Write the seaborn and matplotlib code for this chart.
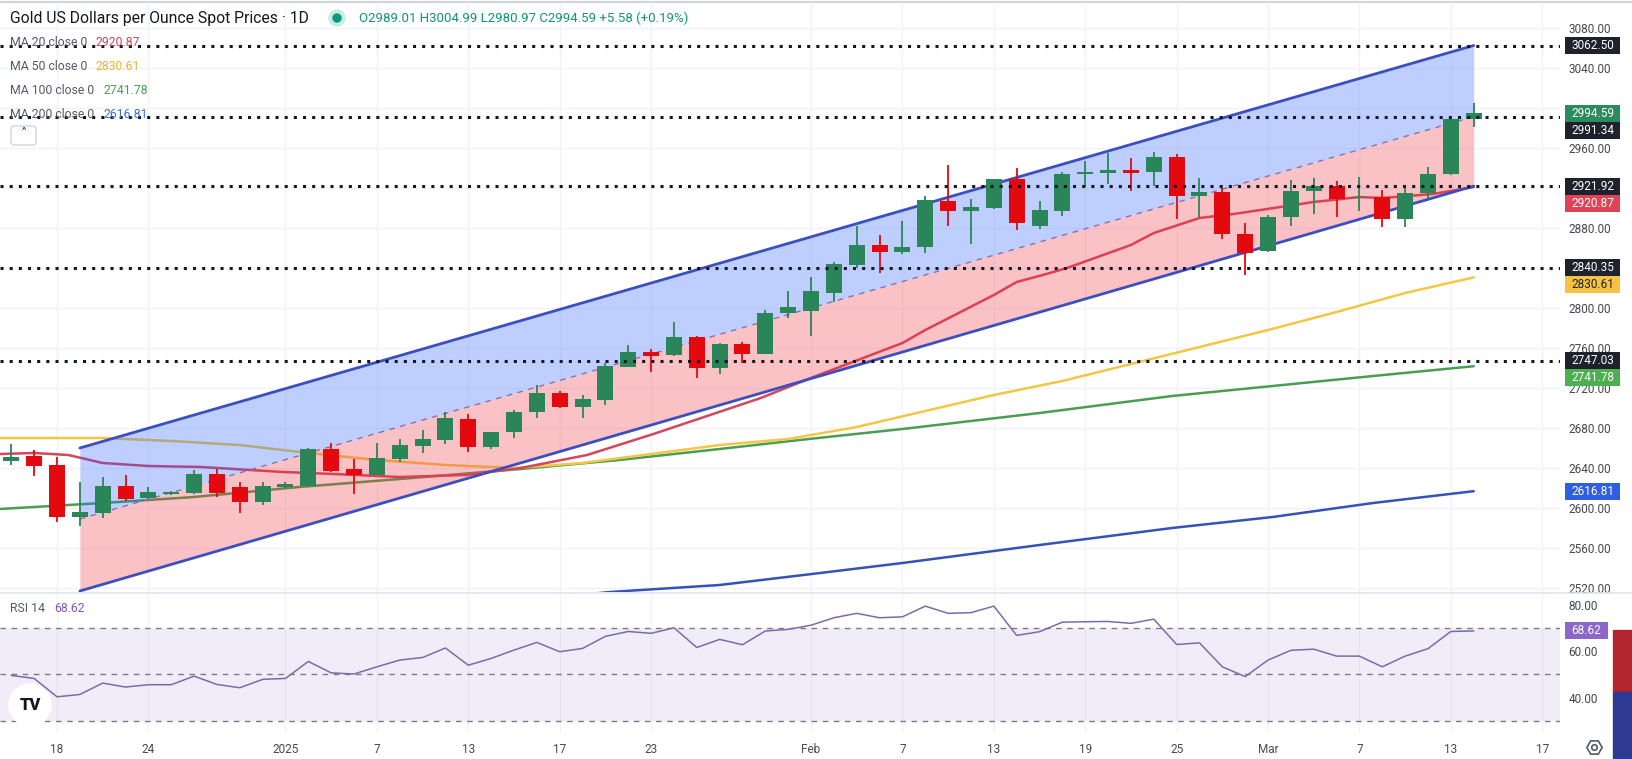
import seaborn as sns
import matplotlib
matplotlib.use("Agg")
import matplotlib.pyplot as plt
from matplotlib.patches import Rectangle, Circle, FancyBboxPatch
from matplotlib.lines import Line2D
from matplotlib.transforms import IdentityTransform

W, H = 1633, 759

# daily bars, bar 0 = 18 Dec 2024
bars = list(range(-2, 63))
opens = [2647, 2652, 2643, 2591, 2595, 2622, 2610, 2614.5, 2615, 2634,
         2621, 2606, 2621, 2622, 2659, 2639, 2633, 2649, 2662, 2668,
         2689, 2661, 2676, 2696, 2715, 2701, 2708, 2741, 2756, 2753,
         2771, 2740, 2764, 2754, 2795, 2797, 2815, 2843, 2863, 2856,
         2861, 2907, 2897, 2900, 2929, 2882, 2897, 2934, 2935, 2938,
         2936, 2951, 2912, 2916, 2874, 2857, 2891, 2917, 2922, 2910,
         2911, 2889, 2915, 2934, 2989.01]
highs = [2664, 2658, 2651, 2626, 2631, 2633, 2621, 2617, 2638, 2639,
         2626, 2626, 2626, 2660, 2665, 2649, 2665, 2669, 2678, 2696,
         2694, 2676, 2698, 2723, 2717, 2713, 2745, 2763, 2759, 2786,
         2772, 2765, 2766, 2798, 2817, 2831, 2846, 2882, 2873, 2887,
         2912, 2943, 2909, 2929, 2940, 2907, 2936, 2947, 2955, 2950,
         2956, 2954, 2930, 2920, 2885, 2893, 2928, 2930, 2927, 2931,
         2918, 2923, 2941, 2990, 3004.99]
lows = [2643, 2632, 2586, 2582, 2590, 2607, 2609, 2613, 2614, 2611,
        2595, 2603, 2620, 2621, 2636, 2614, 2633, 2646, 2655, 2664,
        2656, 2659, 2670, 2690, 2700, 2690, 2703, 2741, 2736, 2752,
        2730, 2734, 2745, 2754, 2790, 2772, 2806, 2840, 2835, 2854,
        2855, 2882, 2864, 2899, 2878, 2879, 2892, 2921, 2924, 2917,
        2922, 2889, 2891, 2869, 2833, 2856, 2882, 2894, 2891, 2897,
        2881, 2881, 2909, 2933, 2980.97]
closes = [2651, 2642, 2591, 2596, 2622, 2609, 2616, 2615.5, 2634, 2615,
          2606, 2622, 2624, 2659, 2637, 2633, 2650, 2663, 2669, 2690,
          2661, 2676, 2696, 2715, 2701, 2709, 2742, 2756, 2752, 2771,
          2740, 2764, 2754, 2795, 2801, 2817, 2844, 2863, 2856, 2861,
          2908, 2897, 2901, 2929, 2885, 2898, 2934, 2936, 2938, 2935,
          2951, 2912, 2916, 2874, 2855, 2891, 2917, 2922, 2909, 2911,
          2889, 2915, 2934, 2989, 2994.59]
rsi = [49.5, 48.2, 40.3, 41.3, 46.2, 44.5, 45.5, 45.5, 49.2, 45.6,
       44.2, 47.8, 48.2, 55.5, 50.6, 50.1, 53.2, 56.1, 57.2, 61.3,
       53.9, 56.8, 60.4, 63.7, 59.7, 61.1, 66.3, 68.4, 67.6, 70.0,
       61.5, 65.0, 62.7, 68.6, 69.3, 71.1, 74.3, 76.2, 74.3, 74.7,
       79.3, 76.2, 76.5, 79.3, 66.7, 68.3, 72.4, 72.6, 72.7, 71.9,
       73.7, 62.8, 63.5, 53.2, 49.0, 56.1, 60.3, 60.8, 57.8, 57.8,
       53.2, 57.8, 61.0, 68.4, 68.62]

# moving averages (bar position, value)
ma20_x = [-2.5, -1, 0.5, 2, 4, 6.3, 9.9, 12.1, 15, 17.9, 20.3, 23.2, 26.1, 30.8, 33.1,
          37, 38, 41, 42, 43.3, 44.2, 47, 48, 50, 51.5, 55, 57, 58, 60.2, 62]
ma20_y = [2654, 2655, 2653, 2645, 2642, 2641, 2636, 2634, 2631, 2633, 2640, 2653, 2674, 2710, 2731,
          2765, 2778, 2813, 2826, 2834, 2840, 2863, 2875, 2890, 2894, 2906, 2911, 2910, 2914, 2920.87]
ma50_x = [-2.5, 2, 5, 8, 11, 14, 17, 20, 23, 26, 29, 32, 35, 38, 41, 44, 47, 50, 53, 56, 59, 62]
ma50_y = [2670, 2670, 2667, 2663, 2655, 2648, 2643, 2640, 2645, 2654, 2663, 2669, 2681, 2697,
          2713, 2727, 2744, 2761, 2778, 2796, 2815, 2830.61]
ma100_x = [-2.5, 2, 6, 10.6, 15, 20.3, 24.6, 29, 32.9, 37, 43, 48.8, 53.2, 57.6, 62]
ma100_y = [2599, 2605, 2611, 2621, 2629, 2639, 2648, 2659, 2669, 2679, 2695, 2712, 2722, 2732, 2741.78]
ma200_x = [22, 24.2, 29, 33.4, 37, 43, 48.8, 53.2, 57.6, 62]
ma200_y = [2511, 2516, 2523, 2535, 2545, 2563, 2580, 2591, 2605, 2616.81]

# regression channel
chan_x = [1, 62]
chan_upper = [2660, 3062.50]
chan_mid = [2589, 2991.34]
chan_lower = [2517, 2921.92]

levels = [3062.50, 2991.34, 2921.92, 2840.35, 2747.03]

price_ticks = list(range(2520, 3081, 40))
rsi_ticks = [40, 60, 80]
tick_pos = [0, 4, 10, 14, 18, 22, 26, 33, 37, 41, 45, 49, 53, 57, 61, 65]
tick_lbl = ["18", "24", "2025", "7", "13", "17", "23", "Feb", "7", "13", "19", "25", "Mar", "7", "13", "17"]

GREEN = "#2a8558"
RED = "#e3090f"
DARK = "#1e222d"
C20, C50, C100, C200 = "#d6455a", "#f2c744", "#4a9e52", "#3552b8"
RSI_C = "#7e6aa6"

sns.set_style("white")
plt.rcParams["font.family"] = ["Roboto", "DejaVu Sans"]

fig = plt.figure(figsize=(W / 100, H / 100), dpi=100)
ax = fig.add_axes([0, 167 / H, 1560 / W, 588 / H])
ax_rsi = fig.add_axes([0, 26 / H, 1560 / W, 140 / H])
for a in (ax, ax_rsi):
    for s in a.spines.values():
        s.set_visible(False)
    a.set_xlim(-2.494, 65.777)
    a.set_facecolor("white")
    for t in tick_pos:
        a.axvline(t, color="#f0f3fa", lw=1, zorder=0)
ax.set_ylim(2516, 3104)
ax_rsi.set_ylim(24.73, 84.95)

for p in price_ticks:
    ax.axhline(p, color="#f0f3fa", lw=1, zorder=0)

# moving averages (under the channel fill)
for xs, ys, c in [(ma200_x, ma200_y, C200), (ma100_x, ma100_y, C100),
                  (ma50_x, ma50_y, C50), (ma20_x, ma20_y, C20)]:
    sns.lineplot(x=xs, y=ys, ax=ax, color=c, lw=1.8, zorder=1.5, legend=False)

# channel
ax.fill_between(chan_x, chan_mid, chan_upper, color="#2962ff", alpha=0.3, lw=0, zorder=2)
ax.fill_between(chan_x, chan_lower, chan_mid, color="#f23645", alpha=0.3, lw=0, zorder=2)
sns.lineplot(x=chan_x, y=chan_upper, ax=ax, color="#3b4fc0", lw=2, zorder=3, legend=False)
sns.lineplot(x=chan_x, y=chan_lower, ax=ax, color="#3b4fc0", lw=2, zorder=3, legend=False)
ax.plot(chan_x, chan_mid, color="#9b6b9e", lw=1, linestyle=(0, (4, 4)), zorder=3)

# candles
for b, o, h, l, c in zip(bars, opens, highs, lows, closes):
    col = GREEN if c >= o else RED
    ax.vlines(b, l, h, color=col, lw=1.3, zorder=4)
    ax.bar(b, max(abs(c - o), 1.3), bottom=min(o, c), width=0.7, color=col, lw=0, zorder=4.5)

for lv in levels:
    ax.axhline(lv, color="#131722", lw=2.2, linestyle=(0, (1, 2)), dash_capstyle="butt", zorder=6)

# price tags on the right scale
tags = [(3062.50, DARK, "white"), (closes[-1], "#2b8a5e", "white"), (2991.34, DARK, "white"),
        (2921.92, DARK, "white"), (ma20_y[-1], "#e04356", "white"), (2840.35, DARK, "white"),
        (ma50_y[-1], "#f5c242", "#1e222d"), (2747.03, DARK, "white"),
        (ma100_y[-1], "#4caf50", "white"), (ma200_y[-1], "#2f5fe0", "white")]

# tick labels that sit right under a tag are hidden on the original scale
shown_ticks = [p for p in price_ticks if all(abs(p - t[0]) > 9 for t in tags)]
ax.set_xticks(tick_pos)
ax.set_yticks(shown_ticks)
ax.set_yticklabels([f"{p:.2f}" for p in shown_ticks])
ax.yaxis.tick_right()
ax.tick_params(axis="x", length=0, labelbottom=False)
ax.tick_params(axis="y", length=0, pad=6, labelsize=8.5, labelcolor="#434651")
ax.set_xlabel("")
ax.set_ylabel("")

# RSI pane
ax_rsi.axhspan(30, 70, color="#7e57c2", alpha=0.1, lw=0, zorder=0.5)
for lv in (70, 50, 30):
    ax_rsi.axhline(lv, color="#787b86", lw=1, linestyle=(0, (4, 4)), zorder=1)
sns.lineplot(x=bars, y=rsi, ax=ax_rsi, color=RSI_C, lw=1.1, zorder=3, legend=False)
ax_rsi.set_xticks(tick_pos)
ax_rsi.set_xticklabels(tick_lbl)
ax_rsi.set_yticks(rsi_ticks)
ax_rsi.set_yticklabels([f"{v:.2f}" for v in rsi_ticks])
ax_rsi.yaxis.tick_right()
ax_rsi.tick_params(axis="x", length=0, pad=7, labelsize=8.5, labelcolor="#4a4a4a")
ax_rsi.tick_params(axis="y", length=0, pad=6, labelsize=8.5, labelcolor="#434651")
ax_rsi.set_xlabel("")
ax_rsi.set_ylabel("")

ID = IdentityTransform()


def ftext(x, y, s, **kw):
    fig.text(x, H - y, s, transform=ID, va="center", **kw)


fig.canvas.draw()

prev = None
for price, fc, tc in sorted(tags, key=lambda t: -t[0]):
    yd = ax.transData.transform((0, price))[1]
    if prev is not None and prev - yd < 17:
        yd = prev - 17
    prev = yd
    fig.add_artist(Rectangle((1565, yd - 8.5), 55, 17, transform=ID, facecolor=fc,
                             edgecolor="none", zorder=10))
    fig.text(1592.5, yd, f"{price:.2f}", transform=ID, ha="center", va="center",
             color=tc, fontsize=8.5, zorder=11)

yd = ax_rsi.transData.transform((0, rsi[-1]))[1]
fig.add_artist(Rectangle((1565, yd - 8.5), 43, 17, transform=ID, facecolor="#8b67c9",
                         edgecolor="none", zorder=10))
fig.text(1586.5, yd, f"{rsi[-1]:.2f}", transform=ID, ha="center", va="center",
         color="white", fontsize=8.5, zorder=11)

# pane borders
fig.add_artist(Line2D([0, W], [H - 592.5, H - 592.5], transform=ID, color="#e0e3eb", lw=1.2))
fig.add_artist(Line2D([0, W], [H - 2, H - 2], transform=ID, color="#d1d4dc", lw=1.5))

# side bar at the right edge
fig.add_artist(Rectangle((1613, H - 692), 20, 62, transform=ID, color="#b3262f", zorder=10))
fig.add_artist(Rectangle((1613, 0), 20, H - 692, transform=ID, color="#2e3a92", zorder=10))

# header and legend
ftext(10, 18, "Gold US Dollars per Ounce Spot Prices · 1D", fontsize=11.3, color="#131722")
fig.add_artist(Circle((337, H - 18), 8, transform=ID, color="#c8ece4"))
fig.add_artist(Circle((337, H - 18), 4, transform=ID, color="#089981"))
ftext(359, 18, "O2989.01 H3004.99 L2980.97 C2994.59 +5.58 (+0.19%)", fontsize=9.5, color="#12956f")

legend = [("MA 20 close 0", ma20_y[-1], C20, 43, 96),
          ("MA 50 close 0", ma50_y[-1], "#e8b52f", 67, 96),
          ("MA 100 close 0", ma100_y[-1], C100, 91, 104),
          ("MA 200 close 0", ma200_y[-1], "#3a6fd8", 115, 104)]
for name, val, col, y, xv in legend:
    ftext(10, y, name, fontsize=8.8, color="#555a66")
    ftext(xv, y, f"{val:.2f}", fontsize=8.8, color=col)

fig.add_artist(FancyBboxPatch((11, H - 145), 25, 19, boxstyle="round,pad=0,rounding_size=3",
                              transform=ID, facecolor="white", edgecolor="#d1d4dc", lw=1))
fig.text(23.5, H - 133, "˄", transform=ID, ha="center", va="center", fontsize=9,
         color="#131722", family="DejaVu Sans")

ftext(10, 609, "RSI 14", fontsize=8.8, color="#555a66")
ftext(54, 609, f"{rsi[-1]:.2f}", fontsize=8.8, color="#7e57c2")

# logo and settings icon
fig.add_artist(Circle((30, H - 705), 21, transform=ID, color="white", zorder=8))
fig.text(30, H - 705, "TV", transform=ID, ha="center", va="center", fontsize=12,
         weight="heavy", color="#131722", zorder=9)
fig.add_artist(Line2D([1594], [H - 747], transform=ID, marker="H", markersize=11,
                      mfc="none", mec="#555a66", mew=1.2))
fig.add_artist(Line2D([1594], [H - 747], transform=ID, marker="o", markersize=4,
                      mfc="none", mec="#555a66", mew=1.2))

fig.savefig("out.png", dpi=100)
